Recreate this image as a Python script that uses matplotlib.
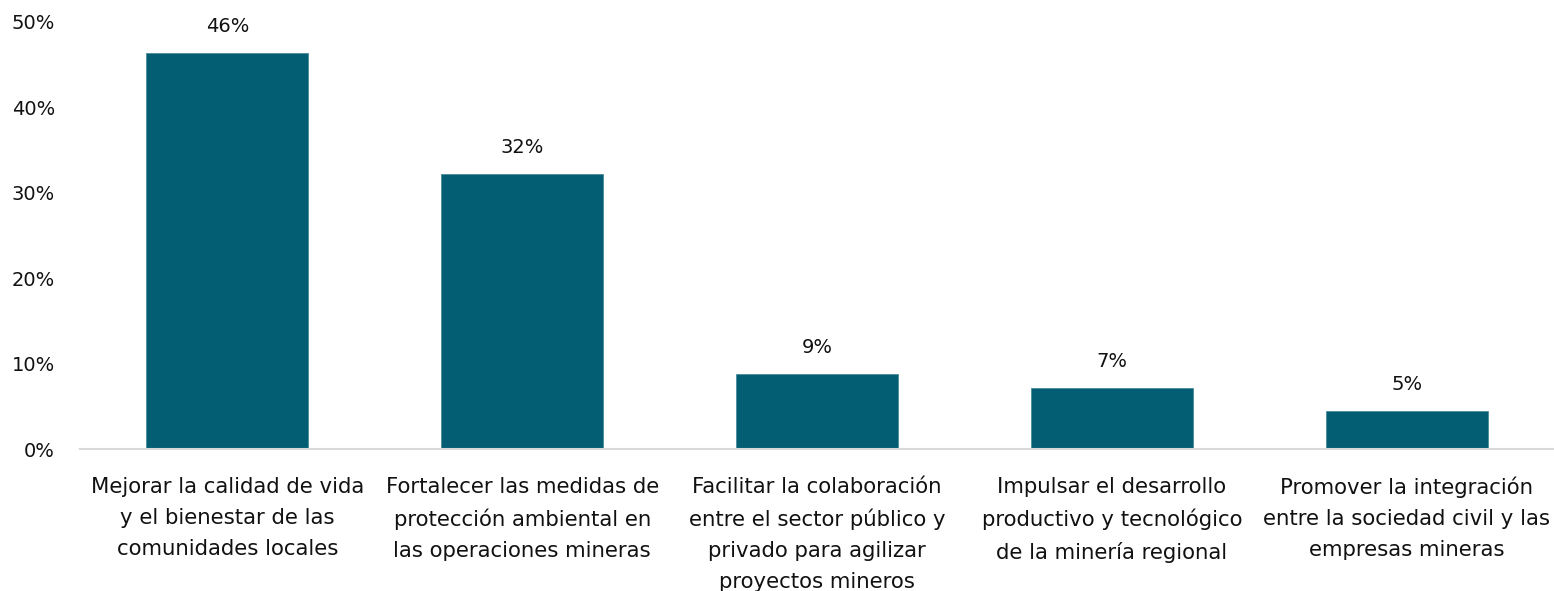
import matplotlib.pyplot as plt
from matplotlib.ticker import FuncFormatter

categories = [
    "Mejorar la calidad de vida\ny el bienestar de las\ncomunidades locales",
    "Fortalecer las medidas de\nprotección ambiental en\nlas operaciones mineras",
    "Facilitar la colaboración\nentre el sector público y\nprivado para agilizar\nproyectos mineros",
    "Impulsar el desarrollo\nproductivo y tecnológico\nde la minería regional",
    "Promover la integración\nentre la sociedad civil y las\nempresas mineras",
]
values = [46.4, 32.2, 8.8, 7.2, 4.5]
value_labels = ["46%", "32%", "9%", "7%", "5%"]
yticks = [0, 10, 20, 30, 40, 50]

plt.rcParams['font.family'] = ['DejaVu Sans']

fig = plt.figure(figsize=(15.54, 5.91), dpi=100)
ax = fig.add_axes([0.0515, 0.24, 0.9485, 0.723])

x = range(len(categories))
bars = ax.bar(x, values, width=0.55, color="#035e73", edgecolor="#4a8c9c", linewidth=0.6)

for b, lab in zip(bars, value_labels):
    ax.annotate(lab, (b.get_x() + b.get_width() / 2, b.get_height()),
                xytext=(0, 19), textcoords="offset points",
                ha="center", va="center", fontsize=14, color="#111111")

ax.set_xlim(-0.5, len(categories) - 0.5)
ax.set_ylim(0, 50)
ax.set_yticks(yticks)
ax.yaxis.set_major_formatter(FuncFormatter(lambda v, p: f"{v:.0f}%"))
ax.set_xticks(list(x))
ax.set_xticklabels(categories, fontsize=15.3, linespacing=1.68, color="#111111")

ax.tick_params(axis="y", length=0, pad=18, labelsize=14, labelcolor="#111111")
ax.tick_params(axis="x", length=0, pad=20)

for s in ["top", "right", "left"]:
    ax.spines[s].set_visible(False)
ax.spines["bottom"].set_color("#d9d9d9")
ax.spines["bottom"].set_linewidth(1.5)

fig.savefig("out.png", dpi=100)
